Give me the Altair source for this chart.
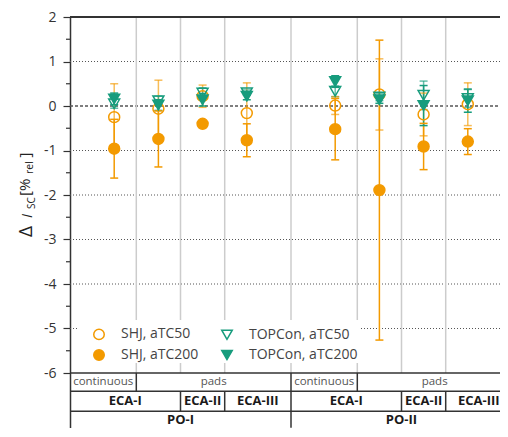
import altair as alt
import pandas as pd

# ---------------- data ----------------
po = ["PO-I", "PO-I", "PO-I", "PO-I", "PO-II", "PO-II", "PO-II", "PO-II"]
eca = ["ECA-I", "ECA-I", "ECA-II", "ECA-III", "ECA-I", "ECA-I", "ECA-II", "ECA-III"]
contact = ["continuous", "pads", "pads", "pads", "continuous", "pads", "pads", "pads"]

series_names = ["SHJ, aTC50", "SHJ, aTC200", "TOPCon, aTC50", "TOPCon, aTC200"]

shj_atc50 = [-0.25, -0.06, 0.22, -0.16, 0.01, 0.26, -0.19, 0.04]
shj_atc50_err = [0.75, 0.64, 0.25, 0.68, 0.20, 0.80, 0.48, 0.48]
shj_atc200 = [-0.96, -0.74, -0.40, -0.77, -0.52, -1.89, -0.91, -0.80]
shj_atc200_err = [0.66, 0.63, 0.05, 0.37, 0.69, 3.37, 0.52, 0.29]
top_atc50 = [0.05, 0.12, 0.29, 0.30, 0.33, 0.20, 0.24, 0.17]
top_atc50_err = [0.10, 0.10, 0.12, 0.06, 0.12, 0.08, 0.32, 0.20]
top_atc200 = [0.16, 0.02, 0.14, 0.22, 0.55, 0.14, 0.01, 0.12]
top_atc200_err = [0.13, 0.12, 0.14, 0.08, 0.13, 0.08, 0.45, 0.26]

y_ticks = [-6, -5, -4, -3, -2, -1, 0, 1, 2]
y_minor = [-5.5, -4.5, -3.5, -2.5, -1.5, -0.5, 0.5, 1.5]

ORANGE = "#f39a00"
TEAL = "#179c7d"

# ---------------- derived tables ----------------
pos = []
p = 0
for i in range(len(po)):
    p += 1
    if i > 0 and po[i] != po[i - 1]:
        p += 1
    pos.append(p)

rows = []
for name, vals, errs in [
    ("SHJ, aTC50", shj_atc50, shj_atc50_err),
    ("SHJ, aTC200", shj_atc200, shj_atc200_err),
    ("TOPCon, aTC50", top_atc50, top_atc50_err),
    ("TOPCon, aTC200", top_atc200, top_atc200_err),
]:
    for x, v, e in zip(pos, vals, errs):
        rows.append({"series": name, "x": x, "y": v, "lo": v - e, "hi": v + e})
pts = pd.DataFrame(rows)


def segments(labels, keys):
    """group consecutive samples with same key -> (label, x0, x1)"""
    segs = []
    start = 0
    for i in range(1, len(labels) + 1):
        if i == len(labels) or keys[i] != keys[start]:
            a, b = start, i - 1
            x0 = pos[a] - 1 if (a == 0 or po[a] != po[a - 1]) else (pos[a] + pos[a - 1]) / 2
            x1 = pos[b] + 1 if (b == len(labels) - 1 or po[b] != po[b + 1]) else (pos[b] + pos[b + 1]) / 2
            segs.append((labels[a], x0, x1))
            start = i
    return segs


W, H = 430, 411
XMAX = W / 44.2
PX_PER_UNIT = 44.5
YBOT = 2 - H / PX_PER_UNIT

ROW_Y = [(-6.0, -6.41), (-6.41, -6.86), (-6.86, -7.23)]
seg_rows = [
    segments(contact, [f"{a}|{c}" for a, c in zip(po, contact)]),
    segments(eca, [f"{a}|{b}" for a, b in zip(po, eca)]),
    segments(po, po),
]
tab_text, tab_vlines = [], []
for r, segs in enumerate(seg_rows):
    y0, y1 = ROW_Y[r]
    for lab, x0, x1 in segs:
        tab_text.append({"row": r, "label": lab, "x": (x0 + x1) / 2, "y": (y0 + y1) / 2})
        if x0 > 0:
            tab_vlines.append({"x": x0, "y0": y0, "y1": max(y1, YBOT)})
tab_text = pd.DataFrame(tab_text)
tab_vlines = pd.DataFrame(tab_vlines)

sep = pd.DataFrame({"x": [(pos[i] + pos[i + 1]) / 2 for i in range(len(pos) - 1)]})

xs = alt.Scale(domain=[0, XMAX], nice=False, zero=False)
ys = alt.Scale(domain=[YBOT, 2], nice=False, zero=False)
FONT = "Open Sans"

X = lambda f: alt.X(f, type="quantitative", scale=xs, axis=None)

# y axis carrier (invisible points)
base_axis = alt.Chart(pd.DataFrame({"y": y_ticks})).mark_point(opacity=0).encode(
    y=alt.Y("y:Q", scale=ys,
            axis=alt.Axis(values=y_ticks, title=None, grid=False,
                          labelExpr="datum.value < 0 ? '-' + abs(datum.value) : '' + datum.value",
                          labelFont=FONT, labelFontSize=14, labelColor="#333",
                          labelPadding=7, tickSize=7, tickColor="#333", tickWidth=1.2,
                          domainColor="#333", domainWidth=1.5))
)

grid_dot = alt.Chart(pd.DataFrame({"y": [v for v in y_ticks if v not in (-6, 0, 2)]})).mark_rule(
    color="#555", strokeDash=[1, 2], strokeWidth=1).encode(
    y=alt.Y("y:Q", scale=ys), x=alt.value(0), x2=alt.value(W))

zero_line = alt.Chart(pd.DataFrame({"y": [0]})).mark_rule(
    color="#555", strokeDash=[3, 2], strokeWidth=1.6).encode(
    y=alt.Y("y:Q", scale=ys), x=alt.value(0), x2=alt.value(W))

sep_lines = alt.Chart(sep).mark_rule(color="#cccccc", strokeWidth=1.5).encode(
    x=X("x"), y=alt.datum(-6, scale=ys), y2=alt.datum(2))

legend_bg = alt.Chart(pd.DataFrame({"a": [0]})).mark_rect(fill="white").encode(
    x=alt.value(7), x2=alt.value(291), y=alt.value(303), y2=alt.value(346))

borders = alt.Chart(pd.DataFrame({"y": [2, -6], "w": [2.2, 1.6]})).mark_rule(color="#333").encode(
    y=alt.Y("y:Q", scale=ys), x=alt.value(0), x2=alt.value(W),
    strokeWidth=alt.StrokeWidth("w:Q", scale=None))

tab_hlines = alt.Chart(pd.DataFrame({"y": [ROW_Y[0][1], ROW_Y[1][1]]})).mark_rule(
    color="#333", strokeWidth=1.5).encode(
    y=alt.Y("y:Q", scale=ys), x=alt.value(0), x2=alt.value(W))

tab_v = alt.Chart(tab_vlines).mark_rule(color="#333", strokeWidth=1.5).encode(
    x=X("x"), y=alt.Y("y0:Q", scale=ys), y2="y1:Q")

tab_t1 = alt.Chart(tab_text).transform_filter("datum.row == 0").mark_text(
    font=FONT, fontSize=11.5, color="#555", baseline="middle").encode(
    x=X("x"), y=alt.Y("y:Q", scale=ys), text="label:N")
tab_t2 = alt.Chart(tab_text).transform_filter("datum.row > 0").mark_text(
    font=FONT, fontSize=13, fontWeight="bold", color="#1a1a1a", baseline="middle").encode(
    x=X("x"), y=alt.Y("y:Q", scale=ys), text="label:N")

minor = alt.Chart(pd.DataFrame({"y": y_minor})).mark_rule(color="#333", strokeWidth=1.2).encode(
    y=alt.Y("y:Q", scale=ys), x=alt.value(-4), x2=alt.value(0))

col_cond = alt.condition("indexof(datum.series, 'SHJ') >= 0", alt.value(ORANGE), alt.value(TEAL))
op_cond = alt.condition("indexof(datum.series, 'aTC50') >= 0", alt.value(0.65), alt.value(1.0))

err_rule = alt.Chart(pts).mark_rule(strokeWidth=1.5).encode(
    x=X("x"), y=alt.Y("lo:Q", scale=ys), y2="hi:Q", color=col_cond, opacity=op_cond)
cap_lo = alt.Chart(pts).mark_tick(orient="horizontal", size=8, thickness=1.5).encode(
    x=X("x"), y=alt.Y("lo:Q", scale=ys), color=col_cond, opacity=op_cond)
cap_hi = alt.Chart(pts).mark_tick(orient="horizontal", size=8, thickness=1.5).encode(
    x=X("x"), y=alt.Y("hi:Q", scale=ys), color=col_cond, opacity=op_cond)

legend = alt.Legend(orient="none", legendX=22, legendY=310, columns=2, title=None,
                    labelFont=FONT, labelFontSize=14, labelColor="#444",
                    symbolSize=110, symbolStrokeWidth=1.5, labelOffset=15,
                    columnPadding=19, rowPadding=3, padding=0)

points = alt.Chart(pts).mark_point(size=120, strokeWidth=1.5, opacity=1).encode(
    x=X("x"), y=alt.Y("y:Q", scale=ys),
    color=alt.Color("series:N", scale=alt.Scale(domain=series_names,
                                                range=[ORANGE, ORANGE, TEAL, TEAL]), legend=legend),
    fill=alt.Fill("series:N", scale=alt.Scale(domain=series_names,
                                              range=["transparent", ORANGE, "transparent", TEAL]), legend=legend),
    shape=alt.Shape("series:N", scale=alt.Scale(domain=series_names,
                                                range=["circle", "circle", "triangle-down", "triangle-down"]), legend=legend),
)


def title_piece(txt, x, y, size, style="normal"):
    return alt.Chart(pd.DataFrame({"t": [txt]})).mark_text(
        font=FONT, fontSize=size, fontStyle=style, color="#222", angle=270,
        align="left", baseline="alphabetic").encode(
        text="t:N", x=alt.value(x), y=alt.value(y))


title = (title_piece("Δ", -38, 220, 19) + title_piece("I", -38, 201, 15, "italic")
         + title_piece("SC", -35, 192, 10) + title_piece("[%", -40, 179, 15)
         + title_piece("rel", -37, 157, 10.5) + title_piece("]", -40, 140.5, 15))

chart = alt.layer(
    base_axis, grid_dot, zero_line, sep_lines, legend_bg, borders, tab_hlines, tab_v,
    tab_t1, tab_t2, minor, err_rule, cap_lo, cap_hi, points, title
).properties(
    width=W, height=H,
    autosize=alt.AutoSizeParams(type="none"),
    padding={"left": 62, "top": 9, "right": 0, "bottom": 0},
).configure_view(stroke=None)

chart.save("out.html", embed_options={"renderer": "svg", "actions": False})
